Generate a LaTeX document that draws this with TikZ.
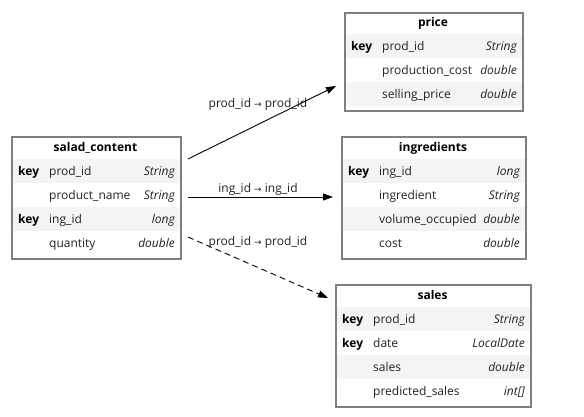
\documentclass[tikz,border=0pt]{standalone}
\usepackage{fontspec}
\setmainfont{Open Sans}
\newfontfamily\symf{DejaVu Sans}
\usetikzlibrary{arrows.meta}
\definecolor{bordergray}{HTML}{7F7F7F}
\definecolor{rowgray}{HTML}{F4F4F4}
\definecolor{txt}{HTML}{222222}
\tikzset{
  tbl/.style={draw=bordergray, line width=1.6pt, inner sep=0pt, anchor=north west},
  ttl/.style={font=\fontsize{12}{14}\selectfont\bfseries, text=black, inner sep=0pt, anchor=base},
  keylbl/.style={font=\fontsize{12}{14}\selectfont\bfseries, text=black, anchor=base west, inner sep=0pt},
  namelbl/.style={font=\fontsize{12}{14}\selectfont, text=txt, anchor=base west, inner sep=0pt},
  typelbl/.style={font=\fontsize{12}{14}\selectfont\itshape, text=txt, anchor=base east, inner sep=0pt},
  edgelbl/.style={font=\fontsize{12}{14}\selectfont, text=txt, inner sep=0pt, anchor=base},
  rel/.style={draw=black, line width=0.9pt, -{Triangle[length=10pt,width=7pt]}},
}
% \trow{id}{left}{right}{ycenter}{shade?}{key}{name}{type}
\newcommand{\trow}[8]{%
  \ifx#5s\fill[rowgray] (#2,#4-12) rectangle (#3,#4+12);\fi
  \node[keylbl] (#1k) at (#2+7,#4+4.5) {#6};
  \node[namelbl] (#1n) at (#2+38,#4+4.5) {#7};
  \node[typelbl] (#1t) at (#3-5,#4+4.5) {#8};
}
\begin{document}
\begin{tikzpicture}[x=1pt,y=-1pt]
\useasboundingbox (0,0) rectangle (584,416);
\fill[white] (0,0) rectangle (584,416);

% salad_content
\trow{sc1}{11}{180}{171}{s}{key}{prod\_id}{String}
\trow{sc2}{11}{180}{195}{n}{}{product\_name}{String}
\trow{sc3}{11}{180}{219}{s}{key}{ing\_id}{long}
\trow{sc4}{11}{180}{243}{n}{}{quantity}{double}
\node[tbl, minimum width=169pt, minimum height=122pt] (salad) at (11,136) {};
\node[ttl] (saladt) at (95.5,151) {salad\_content};

% price
\trow{pr1}{344}{522}{46}{s}{key}{prod\_id}{String}
\trow{pr2}{344}{522}{70}{n}{}{production\_cost}{double}
\trow{pr3}{344}{522}{94}{s}{}{selling\_price}{double}
\node[tbl, minimum width=178pt, minimum height=98pt] (price) at (344,12) {};
\node[ttl] (pricet) at (433,26) {price};

% ingredients
\trow{in1}{341}{525}{171}{s}{key}{ing\_id}{long}
\trow{in2}{341}{525}{195}{n}{}{ingredient}{String}
\trow{in3}{341}{525}{219}{s}{}{volume\_occupied}{double}
\trow{in4}{341}{525}{243}{n}{}{cost}{double}
\node[tbl, minimum width=184pt, minimum height=122pt] (ingr) at (341,136) {};
\node[ttl] (ingrt) at (433,151) {ingredients};

% sales
\trow{sa1}{335}{530}{319}{s}{key}{prod\_id}{String}
\trow{sa2}{335}{530}{343}{n}{key}{date}{LocalDate}
\trow{sa3}{335}{530}{367}{s}{}{sales}{double}
\trow{sa4}{335}{530}{391}{n}{}{predicted\_sales}{int[]}
\node[tbl, minimum width=195pt, minimum height=122pt] (sales) at (335,284) {};
\node[ttl] (salest) at (432.5,299) {sales};

% connectors
\coordinate (a1s) at (188,159);
\coordinate (a1e) at (336,86);
\coordinate (a2s) at (188,197);
\coordinate (a2e) at (333,197);
\coordinate (a3s) at (188,237);
\coordinate (a3e) at (328,298);
\draw[rel] (a1s) -- (a1e);
\draw[rel] (a2s) -- (a2e);
\draw[rel, dash pattern=on 6pt off 4pt] (a3s) -- (a3e);
\node[edgelbl] (l1) at (258,107) {prod\_id {\symf\fontsize{9}{10}\selectfont →} prod\_id};
\node[edgelbl] (l2) at (258,192) {ing\_id {\symf\fontsize{9}{10}\selectfont →} ing\_id};
\node[edgelbl] (l3) at (258,245) {prod\_id {\symf\fontsize{9}{10}\selectfont →} prod\_id};
\end{tikzpicture}
\end{document}
